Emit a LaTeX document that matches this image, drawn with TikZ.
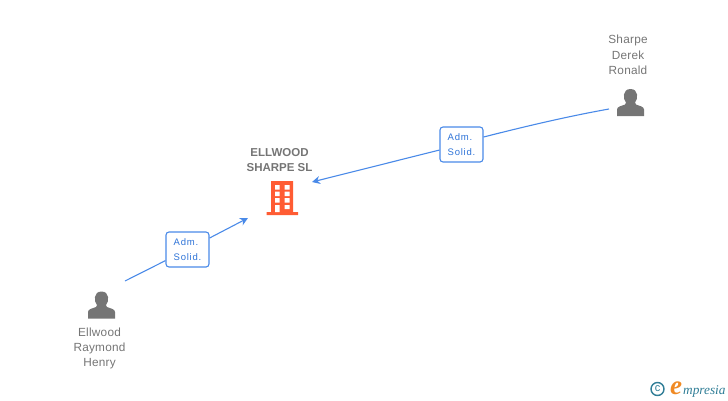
\documentclass[tikz,border=0pt]{standalone}
\usepackage{fontspec}
\usetikzlibrary{arrows.meta}
\setmainfont{Liberation Sans}
\newfontfamily\logofont{Liberation Serif}
\definecolor{linkblue}{HTML}{4A8AE8}
\definecolor{labelblue}{HTML}{2F74D8}
\definecolor{persongrey}{HTML}{757575}
\definecolor{buildorange}{HTML}{FF5C33}
\definecolor{logoteal}{HTML}{2F7D96}
\definecolor{logoorange}{HTML}{F08A24}
\begin{document}
\begin{tikzpicture}[
        x=1pt, y=-1pt,
        link/.style = {draw=linkblue, line width=1.1pt}, % Линии связей
        arrowlink/.style = {link, -{Stealth[length=8pt, width=8pt, inset=2.5pt]}},
        role/.style = {draw=linkblue, line width=1.1pt, fill=white, rounded corners=3pt,
                minimum width=43pt, minimum height=35pt, inner sep=0pt, align=left,
                text=labelblue, font=\fontsize{9.5}{15}\selectfont\addfontfeatures{LetterSpace=8}},
        personname/.style = {align=center, text=persongrey, font=\fontsize{11.8}{15.3}\selectfont\addfontfeatures{LetterSpace=2}},
        company/.style = {align=center, text=persongrey, font=\fontsize{11.5}{15.5}\selectfont\bfseries},
        person/.pic = {
                \fill[persongrey] (-13.5,13.5) -- (-13.5,7) .. controls (-13.5,4) and (-9,3.5) .. (-5.5,2)
                -- (-4.5,0) .. controls (-7.5,-3) and (-8.5,-13.5) .. (0,-13.5)
                .. controls (8.5,-13.5) and (7.5,-3) .. (4.5,0) -- (5.5,2)
                .. controls (9,3.5) and (13.5,4) .. (13.5,7) -- (13.5,13.5) -- cycle;
            },
    ]
    \useasboundingbox (0,0) rectangle (728,400);

    % Люди
    \pic at (630.5,102.5) {person};
    \pic at (101.5,305) {person};
    \node[personname] (sharpe) at (628,55) {Sharpe\\Derek\\Ronald};
    \node[personname] (ellwood) at (99.5,348.5) {Ellwood\\Raymond\\Henry};

    % Здание
    \node[company] (firm) at (279.5,160) {ELLWOOD\\SHARPE SL};
    \fill[buildorange] (271,181) rectangle (293,212) (266.5,212) rectangle (298,215);
    \fill[white] (275,185) rectangle (279.5,189.5) (284.5,185) rectangle (289.5,189.5)
    (275,191.7) rectangle (279.5,196) (284.5,191.7) rectangle (289.5,196)
    (275,198) rectangle (279.5,202.7) (284.5,198) rectangle (289.5,202.7)
    (275,205) rectangle (279.5,212) (284.5,205) rectangle (289.5,209);

    % Связи
    \coordinate (ellwoodfoot) at (125,281);
    \coordinate (firmleft) at (248,218);
    \coordinate (sharpefoot) at (609,109);
    \coordinate (firmright) at (312,182);
    \node[role] (roleleft) at (187.5,249.5) {Adm.\\Solid.};
    \node[role] (roleright) at (461.5,144.5) {Adm.\\Solid.};
    \draw[link] (ellwoodfoot) -- (roleleft);
    \draw[arrowlink] (roleleft) -- (firmleft);
    \draw[link] (sharpefoot) .. controls (567,116.5) and (525,126.5) .. (roleright.east |- 0,137);
    \draw[arrowlink] (roleright) -- (firmright);

    % Логотип
    \node[draw=logoteal, line width=1.4pt, circle, inner sep=0pt, minimum size=13pt,
        text=logoteal, font=\fontsize{11}{11}\selectfont] (logoc) at (657.5,389) {c};
    \node[anchor=base west, inner sep=0pt, text=logoorange, font=\logofont\itshape\bfseries\fontsize{27}{27}\selectfont] (logoe) at (670,394) {e};
    \node[anchor=base west, inner sep=0pt, text=logoteal, font=\logofont\itshape\fontsize{13.3}{14}\selectfont] (logotext) at (683,394) {mpresia};
\end{tikzpicture}
\end{document}
